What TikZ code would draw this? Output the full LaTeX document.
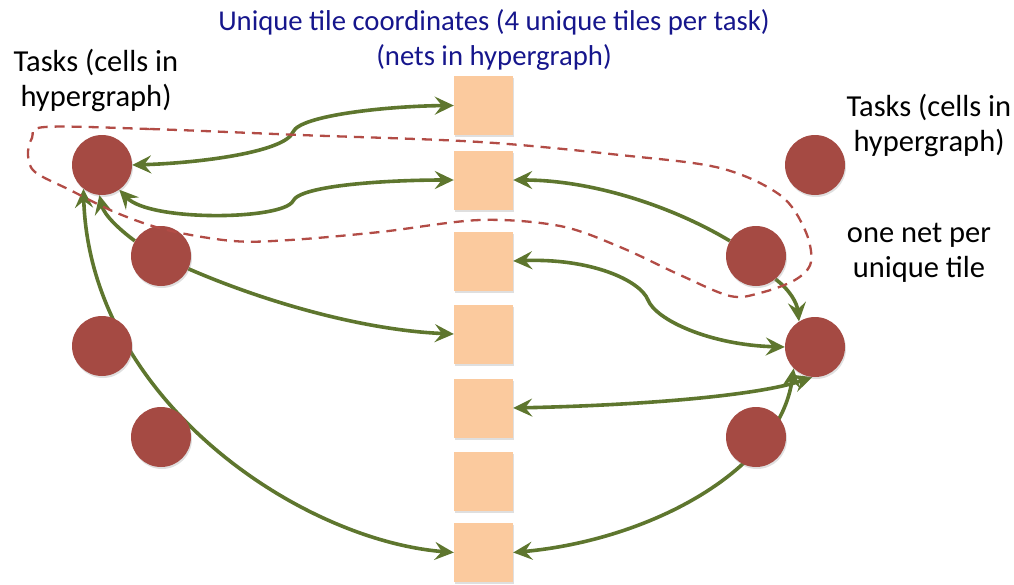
\documentclass[tikz,border=0pt]{standalone}
\usepackage{fontspec}
\setmainfont{Carlito}
\usetikzlibrary{arrows.meta,shadows,backgrounds}
\definecolor{taskred}{RGB}{165,74,67}
\definecolor{tilepeach}{RGB}{251,202,158}
\definecolor{edgegreen}{RGB}{94,118,46}
\definecolor{netred}{RGB}{178,76,70}
\definecolor{titleblue}{RGB}{22,22,140}

\begin{document}
\begin{tikzpicture}[x=1pt, y=-1pt,
        >={Stealth[length=19pt, width=18pt, inset=7pt]},
        task/.style={circle, fill=taskred, minimum size=60pt, inner sep=0pt,
            drop shadow={shadow xshift=1pt, shadow yshift=-2pt, opacity=.25}},
        tile/.style={rectangle, fill=tilepeach, minimum size=59pt, inner sep=0pt,
            drop shadow={shadow xshift=1pt, shadow yshift=-2pt, opacity=.25}},
        link/.style={draw=edgegreen, line width=3.6pt, ->},
        twoway/.style={link, <->},
        netloop/.style={draw=netred, line width=2.3pt, dash pattern=on 10pt off 7pt},
        caption/.style={font=\fontsize{30.5}{35}\selectfont, align=center, inner sep=0pt}]
        \useasboundingbox (0, 0) rectangle (1014, 584);

        \foreach \i/\y in {1/105.5, 2/180, 3/261, 4/334, 5/408, 6/481, 7/552.5} {
            \node[tile] (tile\i) at (483.5, \y) {};
        }
        \foreach \i/\x/\y in {1/102/165, 2/161/256, 3/102/346, 4/161/437,
                              5/815/165, 6/756/256, 7/815/347, 8/756/437} {
            \node[task] (task\i) at (\x, \y) {};
        }

        \node[caption, text=titleblue, font=\fontsize{28.7}{35}\selectfont] (title) at (494, 40)
            {Unique tile coordinates (4 unique tiles per task)\\(nets in hypergraph)};
        \node[caption] (lefttasks) at (96, 80) {Tasks (cells in\\hypergraph)};
        \node[caption] (righttasks) at (929, 125) {Tasks (cells in\\hypergraph)};
        \node[caption] (netnote) at (919, 253) {one net per\\unique tile};

        \begin{scope}[on background layer]
            \coordinate (kink1) at (293, 132);
            \coordinate (kink2) at (293, 201);
            \coordinate (kink3) at (648, 300);
            \draw[twoway] (task1.east) .. controls (200, 163) and (285, 152) .. (kink1)
                .. controls (300, 115) and (390, 106) .. (tile1.west);
            \draw[twoway] (task1.-55) .. controls (150, 222) and (283, 220) .. (kink2)
                .. controls (300, 185) and (390, 180) .. (tile2.west);
            \draw[link] (task6.150) .. controls (670, 205) and (590, 180) .. (tile2.east);
            \draw[twoway] (tile3.east) .. controls (590, 258) and (640, 280) .. (kink3)
                .. controls (656, 320) and (710, 345) .. (task7.west);
            \draw[link] (task2.150) .. controls (120, 230) and (104, 215) .. (task1.-95);
            \draw[link] (task2.-25) .. controls (260, 300) and (360, 330) .. (tile4.west);
            \draw[twoway] (task1.-128) .. controls (90, 400) and (300, 540) .. (tile7.west);
            \draw[twoway] (tile7.east) .. controls (650, 540) and (780, 470) .. (task7.-135);
            \draw[twoway] (tile5.east) .. controls (650, 405) and (760, 395) .. (task7.-95);
            \draw[link] (task6.-50) .. controls (790, 290) and (797, 303) .. (task7.122);
        \end{scope}

        \draw[netloop] plot[smooth cycle, tension=.55] coordinates {
            (45, 127) (150, 129) (300, 135) (480, 142) (620, 155) (720, 168)
            (780, 195) (805, 230) (811, 262) (795, 280) (760, 293) (730, 296)
            (680, 275) (620, 247) (560, 226) (480, 220) (380, 232) (290, 240)
            (233, 241) (167, 230) (117, 213) (70, 190) (35, 172) (28, 155) (32, 138)};
    \end{tikzpicture}
\end{document}
